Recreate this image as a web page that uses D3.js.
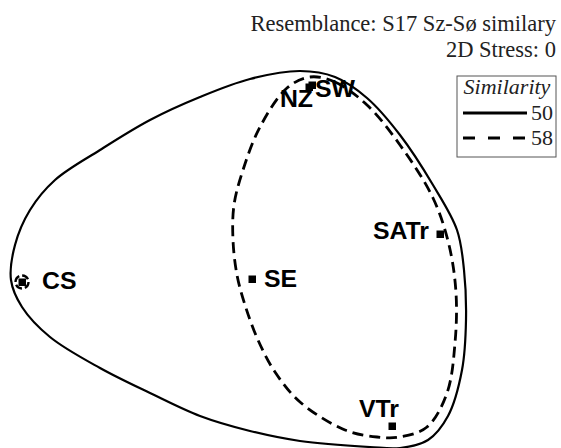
<!DOCTYPE html>
<html>
<head>
<meta charset="utf-8">
<title>nMDS - S17 similarity</title>
<script src="https://cdn.jsdelivr.net/npm/d3@7"></script>
<style>
  body { margin: 0; background: #fff; }
  svg { display: block; }
  .title { font-family: "Liberation Serif", serif; fill: #222; }
  .lab { font-family: "Liberation Sans", Arial, sans-serif; font-weight: bold; fill: #000; }
</style>
</head>
<body>
<div id="chart"></div>
<script>
// MDS ordination (2D, stress 0) - sample coordinates
var samples = ["CS", "SE", "NZ", "SW", "SATr", "VTr"];
var mdsX = [-1.04, 0.11, 0.395, 0.41, 1.05, 0.81];
var mdsY = [-0.13, -0.115, 0.845, 0.855, 0.11, -0.85];

// cluster contours (similarity levels) traced in MDS space
var contour50 = [
  [-1.095, -0.12], [-1.075, 0.055], [-1.0, 0.23], [-0.875, 0.38], [-0.65, 0.53],
  [-0.4, 0.68], [-0.15, 0.795], [0.1, 0.885], [0.35, 0.925], [0.525, 0.895],
  [0.685, 0.79], [0.85, 0.605], [1.015, 0.355], [1.135, 0.13], [1.17, -0.07],
  [1.18, -0.32], [1.16, -0.57], [1.09, -0.8], [0.99, -0.92], [0.85, -0.96],
  [0.7, -0.955], [0.35, -0.925], [0.1, -0.875], [-0.15, -0.8], [-0.4, -0.685],
  [-0.65, -0.56], [-0.9, -0.405], [-1.04, -0.255]
];
var contour58 = [
  [0.4, 0.895], [0.525, 0.87], [0.685, 0.755], [0.85, 0.555], [1.015, 0.29],
  [1.095, 0.055], [1.13, -0.185], [1.125, -0.435], [1.085, -0.685], [0.985, -0.855],
  [0.85, -0.905], [0.735, -0.905], [0.575, -0.87], [0.35, -0.73], [0.225, -0.58],
  [0.14, -0.42], [0.075, -0.245], [0.035, -0.095], [0.015, 0.08], [0.02, 0.255],
  [0.065, 0.43], [0.15, 0.645], [0.285, 0.84]
];
// singleton cluster at 58% (CS alone)
var singleton58 = ["CS"];

var levels = [50, 58];
var resemblance = "S17 Sz-Sø similary";
var stress = 0;

var width = 561, height = 448;

// label placement around each point (px)
var labelPos = {
  CS:   { dx: 20, dy: 7, anchor: "start" },
  SE:   { dx: 12, dy: 8, anchor: "start" },
  NZ:   { dx: 4, dy: 20, anchor: "end" },
  SW:   { dx: 3, dy: 12, anchor: "start" },
  SATr: { dx: -11, dy: 5, anchor: "end" },
  VTr:  { dx: 7, dy: -9, anchor: "end" }
};

var svg = d3.select("#chart").append("svg")
    .attr("width", width)
    .attr("height", height);

var x = d3.scaleLinear().domain([-1.2, 1.2]).range([-10, 470]);
var y = d3.scaleLinear().domain([-1.2, 1.2]).range([496, 16]);

var line = d3.line()
    .x(function(d) { return x(d[0]); })
    .y(function(d) { return y(d[1]); })
    .curve(d3.curveCatmullRomClosed.alpha(0.5));

svg.append("path")
    .attr("d", line(contour50))
    .attr("fill", "none")
    .attr("stroke", "#000")
    .attr("stroke-width", 2.2);

svg.append("path")
    .attr("d", line(contour58))
    .attr("fill", "none")
    .attr("stroke", "#000")
    .attr("stroke-width", 2.8)
    .attr("stroke-dasharray", "11,6");

singleton58.forEach(function(name) {
  var i = samples.indexOf(name);
  svg.append("circle")
    .attr("cx", x(mdsX[i]))
    .attr("cy", y(mdsY[i]))
    .attr("r", 6.5)
    .attr("fill", "none")
    .attr("stroke", "#000")
    .attr("stroke-width", 2.4)
    .attr("stroke-dasharray", "7,3");
});

// points
svg.selectAll("rect.pt")
    .data(samples)
    .enter().append("rect")
    .attr("class", "pt")
    .attr("x", function(d, i) { return x(mdsX[i]) - 3.5; })
    .attr("y", function(d, i) { return y(mdsY[i]) - 3.5; })
    .attr("width", 7.5)
    .attr("height", 7.5)
    .attr("fill", "#000");

// labels (the original font is a bit wide, so stretch horizontally)
svg.selectAll("text.lab")
    .data(samples)
    .enter().append("text")
    .attr("class", "lab")
    .attr("font-size", 23)
    .attr("text-anchor", function(d) { return labelPos[d].anchor; })
    .attr("transform", function(d, i) {
      return "translate(" + (x(mdsX[i]) + labelPos[d].dx) + "," + (y(mdsY[i]) + labelPos[d].dy) + ") scale(1.08,1)";
    })
    .text(function(d) { return d; });

// header text
svg.append("text")
    .attr("class", "title")
    .attr("x", 556).attr("y", 31)
    .attr("text-anchor", "end")
    .attr("font-size", 22.5)
    .text("Resemblance: " + resemblance);

svg.append("text")
    .attr("class", "title")
    .attr("x", 556).attr("y", 57)
    .attr("text-anchor", "end")
    .attr("font-size", 22.5)
    .text("2D Stress: " + stress);

// legend
var lg = svg.append("g").attr("transform", "translate(457,76)");
lg.append("rect")
    .attr("width", 99).attr("height", 81)
    .attr("fill", "#fff")
    .attr("stroke", "#555")
    .attr("stroke-width", 1);
lg.append("text")
    .attr("class", "title")
    .attr("x", 50).attr("y", 18)
    .attr("text-anchor", "middle")
    .attr("font-size", 22)
    .attr("font-style", "italic")
    .text("Similarity");

levels.forEach(function(lv, i) {
  var yy = 37 + i * 25;
  lg.append("line")
    .attr("x1", 6).attr("x2", 70)
    .attr("y1", yy).attr("y2", yy)
    .attr("stroke", "#000")
    .attr("stroke-width", 2.8)
    .attr("stroke-dasharray", i === 0 ? null : "12,13");
  lg.append("text")
    .attr("class", "title")
    .attr("x", 96).attr("y", yy + 7)
    .attr("text-anchor", "end")
    .attr("font-size", 22)
    .text(lv);
});
</script>
</body>
</html>
